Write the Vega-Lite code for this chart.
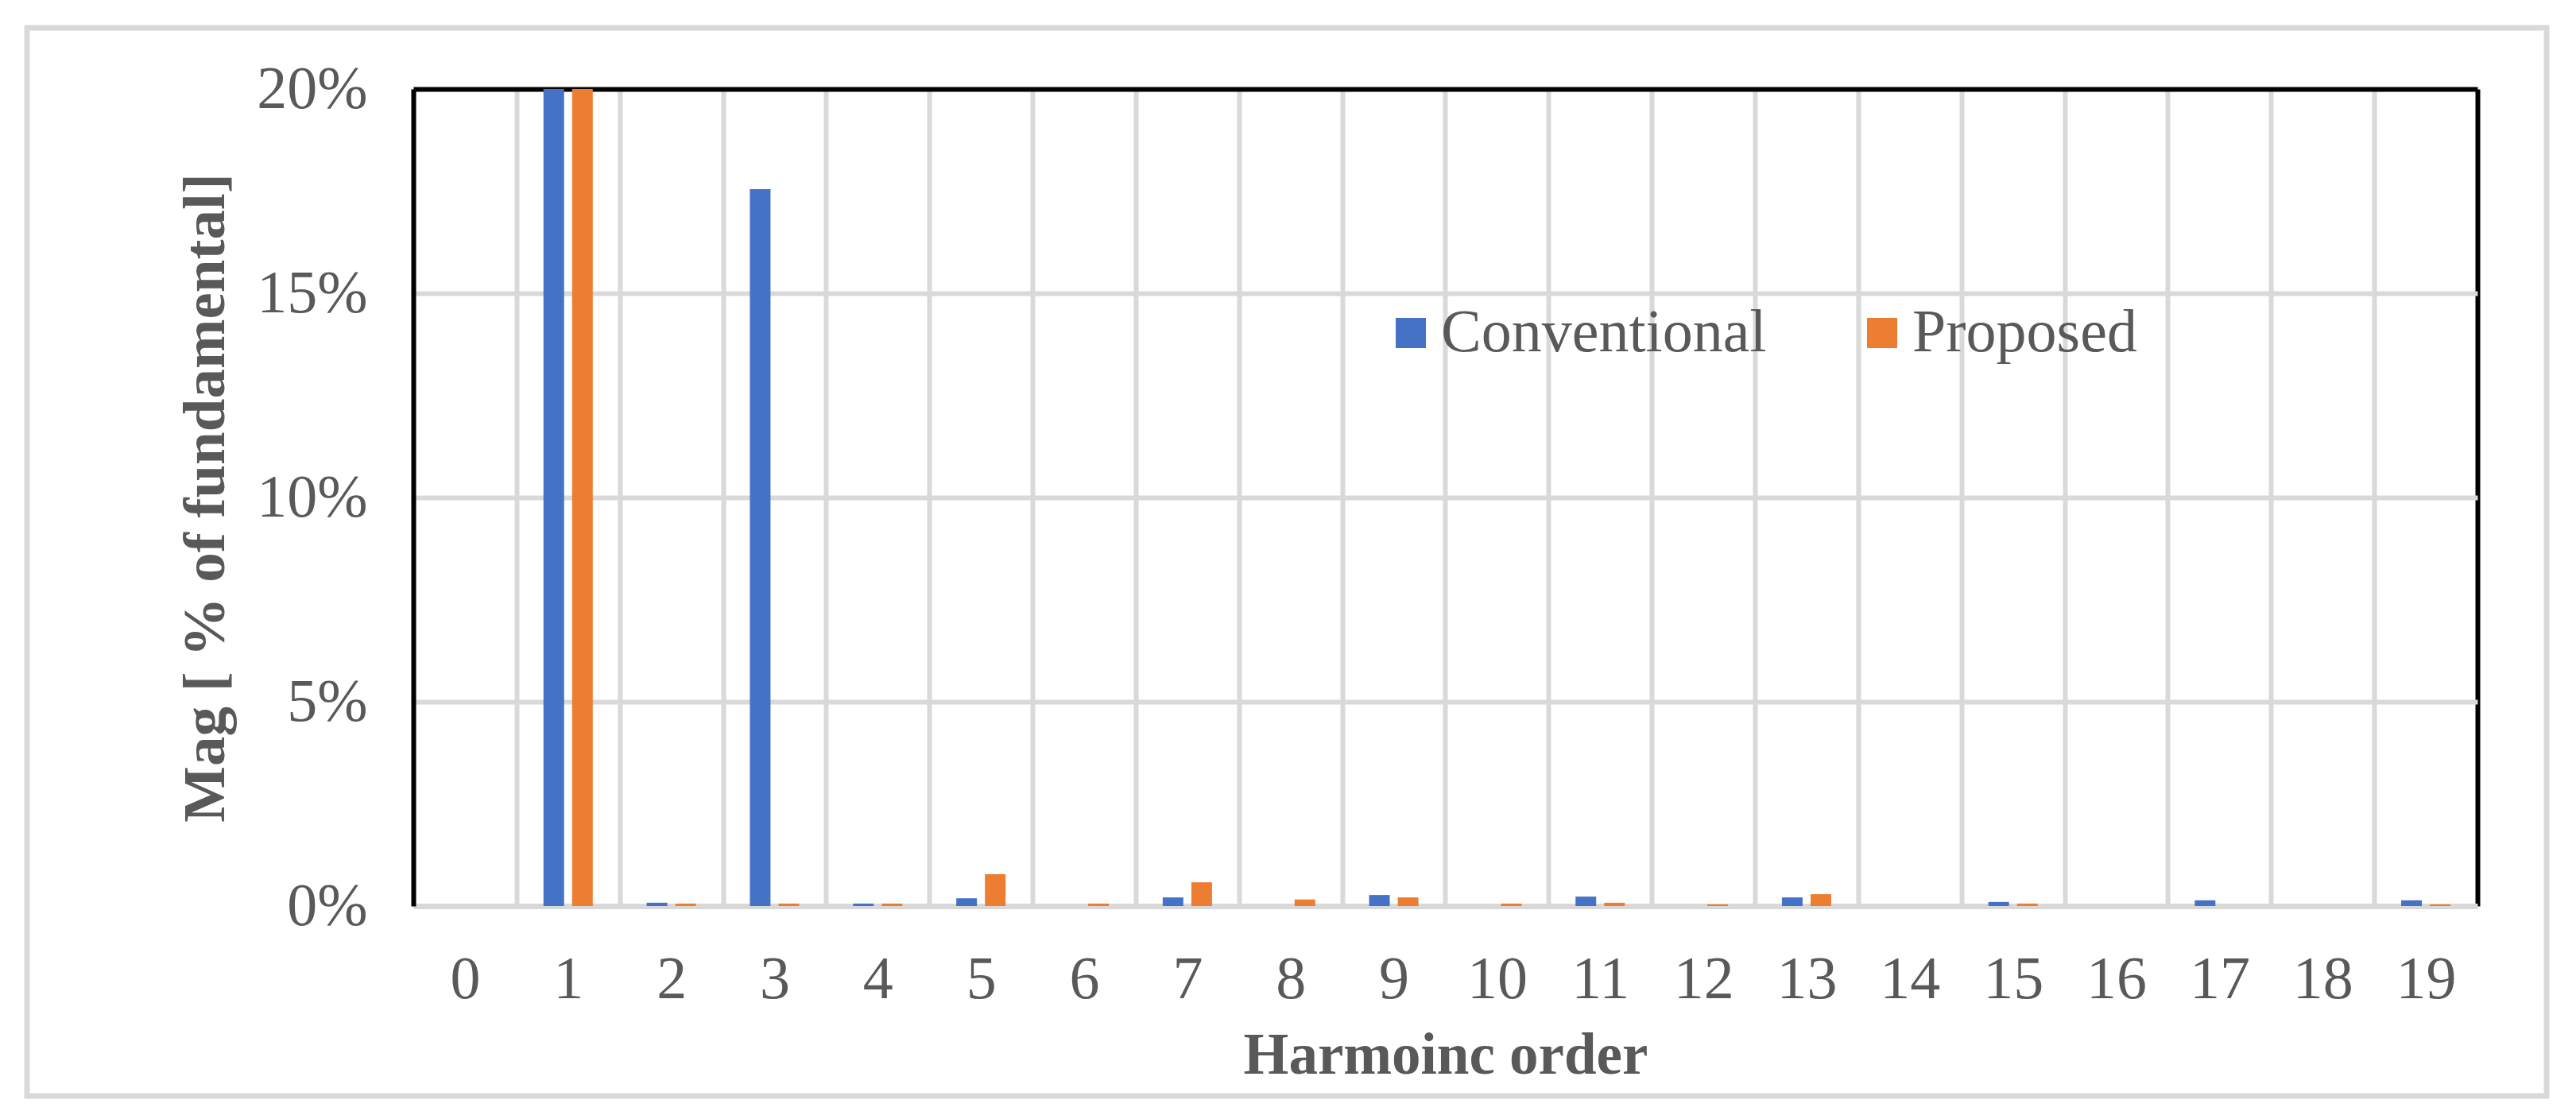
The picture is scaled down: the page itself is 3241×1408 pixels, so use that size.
{
  "$schema": "https://vega.github.io/schema/vega-lite/v6.json",
  "width": 3170,
  "height": 1344,
  "autosize": {"type": "none"},
  "padding": {"left": 34, "top": 35, "right": 37, "bottom": 29},
  "background": "white",
  "config": {
    "font": "Liberation Serif",
    "view": {"stroke": "#d9d9d9", "strokeWidth": 7}
  },
  "data": {
    "values": [
      {"order": 0, "series": "Conventional", "mag": 0},
      {"order": 0, "series": "Proposed", "mag": 0},
      {"order": 1, "series": "Conventional", "mag": 100},
      {"order": 1, "series": "Proposed", "mag": 100},
      {"order": 2, "series": "Conventional", "mag": 0.08},
      {"order": 2, "series": "Proposed", "mag": 0.06},
      {"order": 3, "series": "Conventional", "mag": 17.55},
      {"order": 3, "series": "Proposed", "mag": 0.06},
      {"order": 4, "series": "Conventional", "mag": 0.06},
      {"order": 4, "series": "Proposed", "mag": 0.06},
      {"order": 5, "series": "Conventional", "mag": 0.19},
      {"order": 5, "series": "Proposed", "mag": 0.78},
      {"order": 6, "series": "Conventional", "mag": 0},
      {"order": 6, "series": "Proposed", "mag": 0.06},
      {"order": 7, "series": "Conventional", "mag": 0.21},
      {"order": 7, "series": "Proposed", "mag": 0.58},
      {"order": 8, "series": "Conventional", "mag": 0},
      {"order": 8, "series": "Proposed", "mag": 0.16},
      {"order": 9, "series": "Conventional", "mag": 0.27},
      {"order": 9, "series": "Proposed", "mag": 0.21},
      {"order": 10, "series": "Conventional", "mag": 0},
      {"order": 10, "series": "Proposed", "mag": 0.06},
      {"order": 11, "series": "Conventional", "mag": 0.23},
      {"order": 11, "series": "Proposed", "mag": 0.08},
      {"order": 12, "series": "Conventional", "mag": 0},
      {"order": 12, "series": "Proposed", "mag": 0.04},
      {"order": 13, "series": "Conventional", "mag": 0.21},
      {"order": 13, "series": "Proposed", "mag": 0.29},
      {"order": 14, "series": "Conventional", "mag": 0},
      {"order": 14, "series": "Proposed", "mag": 0},
      {"order": 15, "series": "Conventional", "mag": 0.1},
      {"order": 15, "series": "Proposed", "mag": 0.06},
      {"order": 16, "series": "Conventional", "mag": 0},
      {"order": 16, "series": "Proposed", "mag": 0},
      {"order": 17, "series": "Conventional", "mag": 0.14},
      {"order": 17, "series": "Proposed", "mag": 0},
      {"order": 18, "series": "Conventional", "mag": 0},
      {"order": 18, "series": "Proposed", "mag": 0},
      {"order": 19, "series": "Conventional", "mag": 0.14},
      {"order": 19, "series": "Proposed", "mag": 0.04}
    ]
  },
  "mark": {"type": "bar"},
  "encoding": {
    "x": {
      "field": "order",
      "type": "ordinal",
      "scale": {"paddingInner": 0, "paddingOuter": 0, "range": [486, 3083]},
      "axis": {
        "orient": "top",
        "offset": 0,
        "tickBand": "extent",
        "grid": true,
        "gridColor": {"condition": {"test": "datum.value === 19 || (datum.value === 0 && datum.index > 0.5)", "value": "black"}, "value": "#d9d9d9"},
        "gridWidth": 6,
        "domain": false,
        "ticks": false,
        "labelAngle": 0,
        "labelBaseline": "top",
        "labelFont": "Liberation Serif",
        "labelFontSize": 76,
        "labelColor": "#595959",
        "labelPadding": -1160,
        "title": "Harmoinc order",
        "titleFont": "Liberation Serif",
        "titleFontSize": 73,
        "titleFontWeight": "bold",
        "titleColor": "#595959",
        "titleBaseline": "alphabetic",
        "titleY": 1315
      }
    },
    "xOffset": {
      "field": "series",
      "type": "nominal",
      "scale": {"domain": ["Conventional", "Proposed"], "paddingInner": 0.28, "paddingOuter": 0.94}
    },
    "y": {
      "field": "mag",
      "type": "quantitative",
      "scale": {"domain": [0, 20], "nice": false, "clamp": true, "range": [1105, 77]},
      "axis": {
        "offset": -486,
        "values": [0, 5, 10, 15, 20],
        "labelExpr": "datum.value + '%'",
        "grid": true,
        "gridColor": {"condition": {"test": "datum.value === 20", "value": "black"}, "value": "#d9d9d9"},
        "gridWidth": {"condition": {"test": "datum.value === 0", "value": 7}, "value": 6},
        "domain": true,
        "domainColor": "black",
        "domainWidth": 6,
        "ticks": false,
        "labelFont": "Liberation Serif",
        "labelFontSize": 76,
        "labelColor": "#595959",
        "labelPadding": 58,
        "title": "Mag [ % of fundamental]",
        "titleFont": "Liberation Serif",
        "titleFontSize": 75,
        "titleFontWeight": "bold",
        "titleColor": "#595959",
        "titlePadding": 25
      }
    },
    "color": {
      "field": "series",
      "type": "nominal",
      "scale": {"domain": ["Conventional", "Proposed"], "range": ["#4472C4", "#ED7D31"]},
      "legend": {
        "orient": "none",
        "legendX": 1703,
        "legendY": 346,
        "direction": "horizontal",
        "title": null,
        "symbolType": "square",
        "symbolSize": 1444,
        "symbolStrokeWidth": 0,
        "symbolOpacity": 1,
        "labelFont": "Liberation Serif",
        "labelFontSize": 76,
        "labelColor": "#595959",
        "labelLimit": 0,
        "columnPadding": 107,
        "labelOffset": 0,
        "padding": 0
      }
    }
  }
}
